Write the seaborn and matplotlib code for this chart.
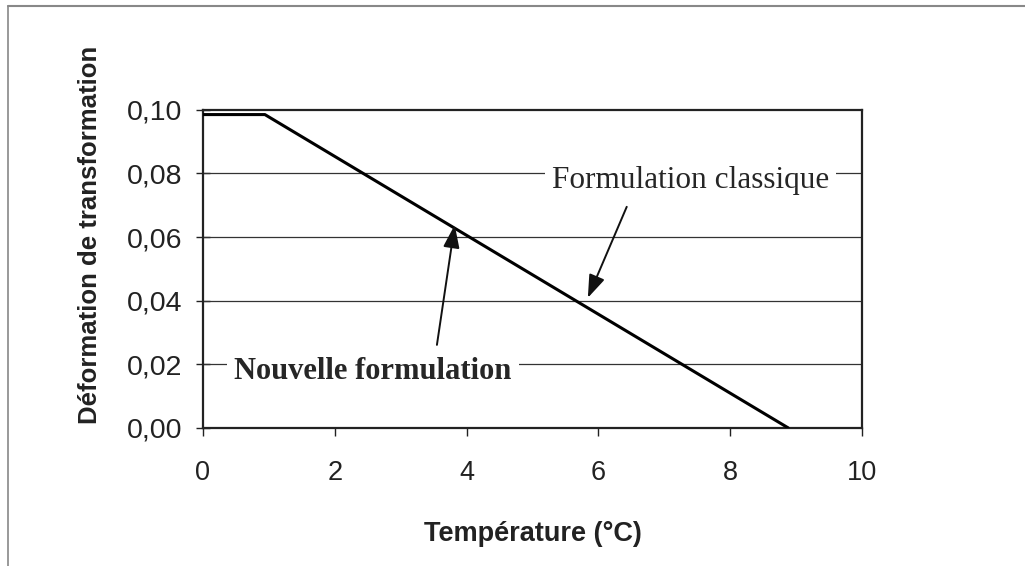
import matplotlib
matplotlib.use("Agg")
import matplotlib.pyplot as plt
import seaborn as sns
import pandas as pd
from matplotlib.lines import Line2D

# data
temperature = [0.0, 0.94, 8.88]
deformation = [0.0985, 0.0985, 0.0]
x_ticks = [0, 2, 4, 6, 8, 10]
y_ticks = [0.00, 0.02, 0.04, 0.06, 0.08, 0.10]
y_ticklabels = ["0,00", "0,02", "0,04", "0,06", "0,08", "0,10"]

df = pd.DataFrame({"T": temperature, "eps": deformation})

sns.set_style("white")
fig = plt.figure(figsize=(10.25, 5.66), dpi=100)
ax = fig.add_axes([0.198, 0.244, 0.643, 0.562])

for y in y_ticks[1:-1]:
    ax.axhline(y, color="#333333", lw=0.9, zorder=1)

sns.lineplot(data=df, x="T", y="eps", color="black", lw=2.2, ax=ax, zorder=3)

ax.set_xlim(0, 10)
ax.set_ylim(0, 0.1)
ax.set_xticks(x_ticks)
ax.set_yticks(y_ticks)
ax.set_yticklabels(y_ticklabels)
ax.tick_params(axis="x", direction="out", length=6, width=1, pad=17,
               labelsize=19.5, colors="#222222", bottom=True)
ax.tick_params(axis="y", direction="inout", length=10, width=1, pad=10,
               labelsize=20.5, colors="#222222", left=True)
for s in ax.spines.values():
    s.set_color("#222222")
    s.set_linewidth(1.6)

ax.set_xlabel("Température (°C)", fontsize=19.5, fontweight="bold",
              family="Liberation Sans", labelpad=25, color="#222222")
ax.set_ylabel("Déformation de transformation", fontsize=18.5, fontweight="bold",
              family="Liberation Sans", color="#222222")
ax.yaxis.set_label_coords(-0.153, 0.607)
for lab in ax.get_xticklabels() + ax.get_yticklabels():
    lab.set_family("Liberation Sans")

ax.text(7.40, 0.0777, "Formulation classique", fontsize=22.5,
        family="Liberation Serif", ha="center", va="center", zorder=4,
        bbox=dict(fc="white", ec="none", pad=5))
ax.text(2.58, 0.0176, "Nouvelle formulation", fontsize=22, fontweight="bold",
        family="Liberation Serif", ha="center", va="center", zorder=4,
        bbox=dict(fc="white", ec="none", pad=5))

arrow = dict(arrowstyle="-|>,head_length=1.4,head_width=0.5", color="#111111",
             lw=1.4, shrinkA=0, shrinkB=0)
ax.annotate("", xy=(3.82, 0.0638), xytext=(3.55, 0.0261), arrowprops=arrow, zorder=5)
ax.annotate("", xy=(5.84, 0.0409), xytext=(6.43, 0.0695), arrowprops=arrow, zorder=5)

# scanned frame around the chart
fig.add_artist(Line2D([0.008, 0.008], [0.0, 0.989], color="#888888", lw=1.2))
fig.add_artist(Line2D([0.008, 1.0], [0.989, 0.989], color="#888888", lw=1.5))

fig.savefig("out.png", dpi=100)
